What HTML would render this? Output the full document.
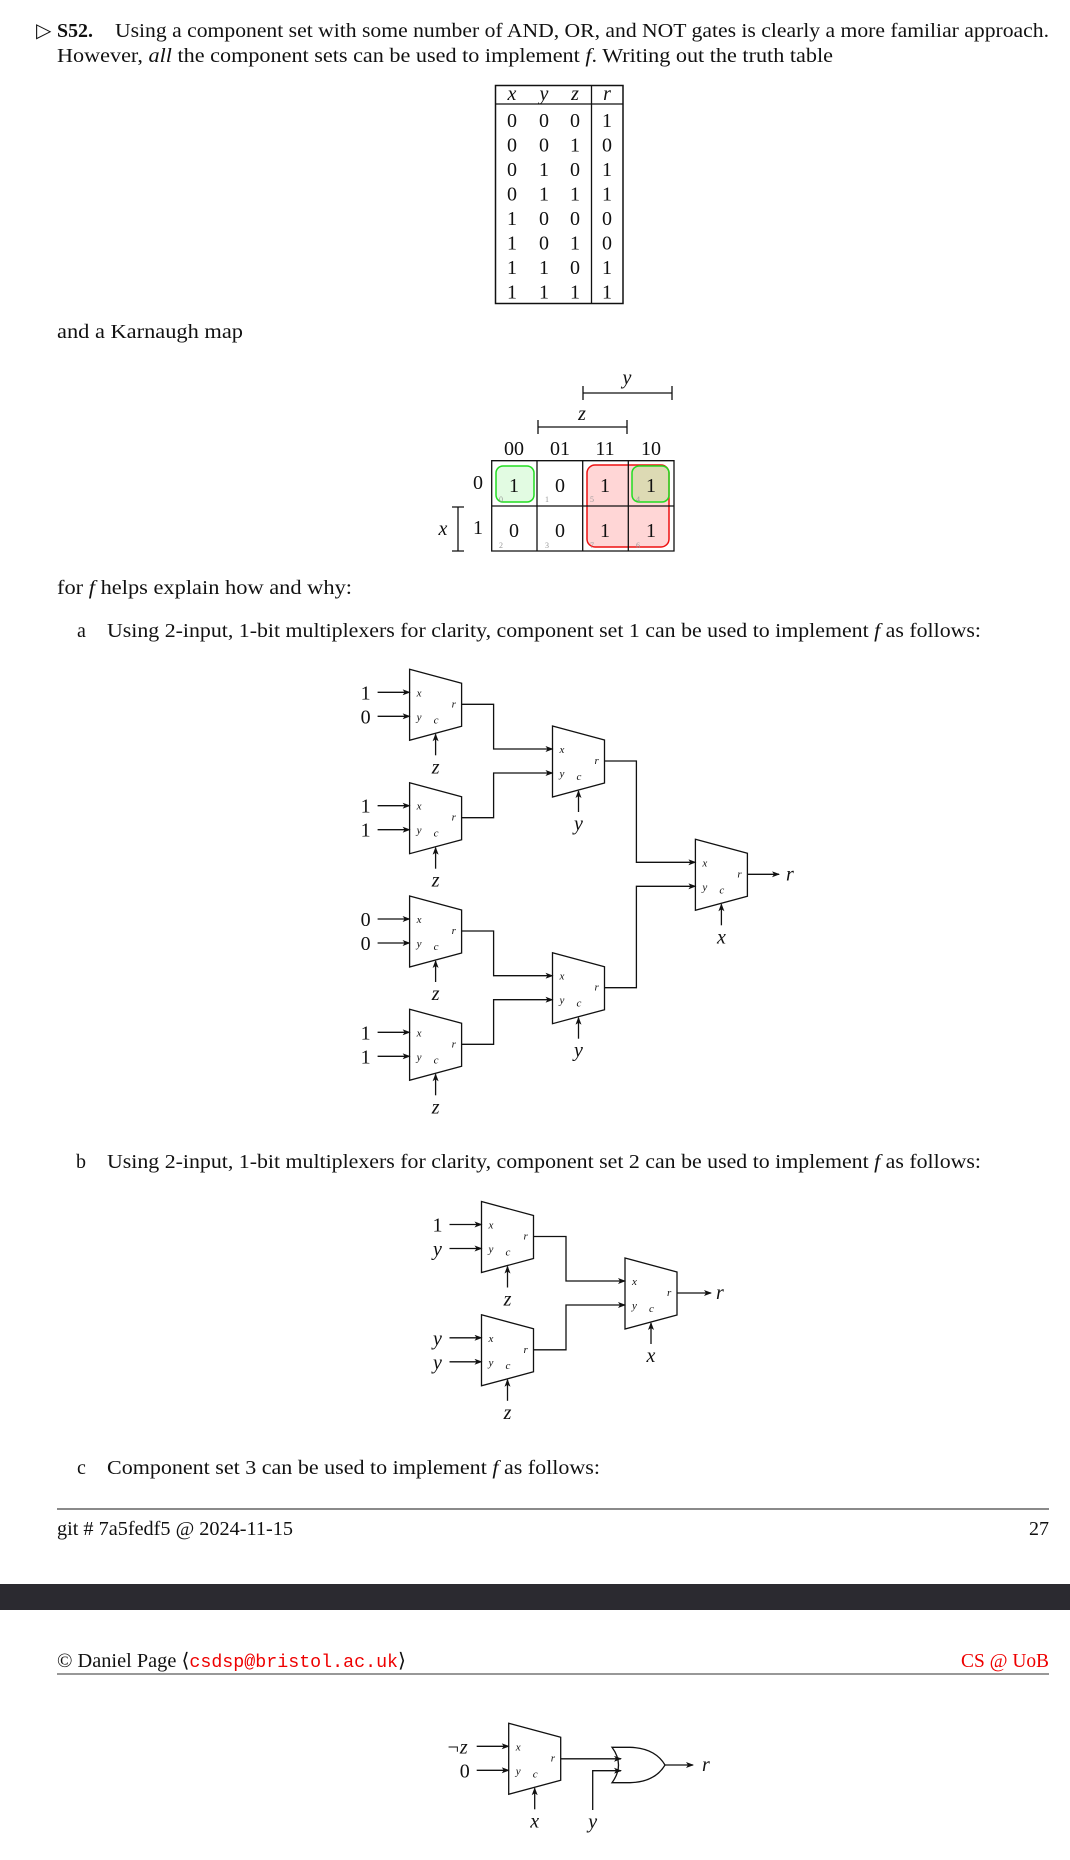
<!DOCTYPE html>
<html><head><meta charset="utf-8"><style>
html,body{margin:0;padding:0;background:#fff;}
svg{display:block;}
.t{font-family:"Liberation Serif",serif;font-size:20px;fill:#111;}
.i{font-style:italic;}
.sm{font-family:"Liberation Serif",serif;font-size:11px;font-style:italic;fill:#111;}
.w{stroke:#111;stroke-width:1.3;fill:none;}
</style></head><body>
<svg id="pg" width="1070" height="1860" viewBox="0 0 1070 1860" xmlns="http://www.w3.org/2000/svg">
<defs><marker id="ah" markerWidth="8" markerHeight="6" refX="7" refY="3" orient="auto" markerUnits="userSpaceOnUse"><path d="M0,0 L8,3 L0,6 L2,3 Z" fill="#111"/></marker></defs>

<g>
<text class="t" x="36" y="37" font-size="16">▷</text>
<text class="t" x="57" y="37" font-weight="bold" textLength="36" lengthAdjust="spacingAndGlyphs">S52.</text>
<text class="t" x="115" y="37" textLength="934" lengthAdjust="spacingAndGlyphs">Using a component set with some number of AND, OR, and NOT gates is clearly a more familiar approach.</text>
<text class="t" x="57" y="62" textLength="776" lengthAdjust="spacingAndGlyphs">However, <tspan class="i">all</tspan> the component sets can be used to implement <tspan class="i">f</tspan>. Writing out the truth table</text>
</g>

<g id="tt"></g>

<text class="t" x="57" y="338" textLength="186" lengthAdjust="spacingAndGlyphs">and a Karnaugh map</text>

<g>
<text class="t i" x="627" y="384" text-anchor="middle">y</text>
<path class="w" d="M583,393 H672 M583,386 V400 M672,386 V400" stroke-width="1.8"/>
<text class="t i" x="582" y="420" text-anchor="middle">z</text>
<path class="w" d="M538,427 H627 M538,420 V434 M627,420 V434" stroke-width="1.8"/>
<text class="t" x="514" y="455" text-anchor="middle" font-size="14">00</text>
<text class="t" x="560" y="455" text-anchor="middle" font-size="14">01</text>
<text class="t" x="605" y="455" text-anchor="middle" font-size="14">11</text>
<text class="t" x="651" y="455" text-anchor="middle" font-size="14">10</text>
<text class="t" x="478" y="489" text-anchor="middle" font-size="14">0</text>
<text class="t" x="478" y="534" text-anchor="middle" font-size="14">1</text>
<text class="t i" x="443" y="535" text-anchor="middle">x</text>
<path class="w" d="M458,507 V551 M452,507 H464 M452,551 H464" stroke-width="1.8"/>
<rect x="496" y="466" width="38" height="36" rx="7" fill="#e2fbe2" stroke="#22dd22" stroke-width="1.5"/>
<rect x="587" y="465" width="82" height="82" rx="8" fill="rgba(255,120,120,0.3)" stroke="#ee1111" stroke-width="1.5"/>
<rect x="632" y="466" width="37" height="36" rx="7" fill="rgba(120,230,80,0.25)" stroke="#22dd22" stroke-width="1.5"/>
<path class="w" d="M491.7,460.7 H674 V551 H491.7 Z M537,460.7 V551 M582.7,460.7 V551 M628.3,460.7 V551 M491.7,506 H674" stroke-width="1.6"/>
<text class="t" x="514" y="492" text-anchor="middle" font-size="21">1</text>
<text class="t" x="560" y="492" text-anchor="middle" font-size="21">0</text>
<text class="t" x="605" y="492" text-anchor="middle" font-size="21">1</text>
<text class="t" x="651" y="492" text-anchor="middle" font-size="21">1</text>
<text class="t" x="514" y="537" text-anchor="middle" font-size="21">0</text>
<text class="t" x="560" y="537" text-anchor="middle" font-size="21">0</text>
<text class="t" x="605" y="537" text-anchor="middle" font-size="21">1</text>
<text class="t" x="651" y="537" text-anchor="middle" font-size="21">1</text>
<g font-family="Liberation Serif" font-size="8" fill="#999">
<text x="499" y="502">0</text><text x="545" y="502">1</text><text x="590" y="502">5</text><text x="636" y="502">4</text>
<text x="499" y="548">2</text><text x="545" y="548">3</text><text x="590" y="548">7</text><text x="636" y="548">6</text>
</g>
</g>

<text class="t" x="57" y="594" textLength="295" lengthAdjust="spacingAndGlyphs">for <tspan class="i">f</tspan> helps explain how and why:</text>
<text class="t" x="77" y="637">a</text>
<text class="t" x="107" y="637" textLength="874" lengthAdjust="spacingAndGlyphs">Using 2-input, 1-bit multiplexers for clarity, component set 1 can be used to implement <tspan class="i">f</tspan> as follows:</text>
<text class="t" x="76" y="1168">b</text>
<text class="t" x="107" y="1168" textLength="874" lengthAdjust="spacingAndGlyphs">Using 2-input, 1-bit multiplexers for clarity, component set 2 can be used to implement <tspan class="i">f</tspan> as follows:</text>
<text class="t" x="77" y="1474">c</text>
<text class="t" x="107" y="1474" textLength="493" lengthAdjust="spacingAndGlyphs">Component set 3 can be used to implement <tspan class="i">f</tspan> as follows:</text>

<g id="circA"></g>
<g id="circB"></g>
<g id="circC"></g>

<g>
<line x1="57" y1="1509" x2="1049" y2="1509" stroke="#444" stroke-width="1.3"/>
<text class="t" x="57" y="1535" textLength="236" lengthAdjust="spacingAndGlyphs">git # 7a5fedf5 @ 2024-11-15</text>
<text class="t" x="1049" y="1535" text-anchor="end">27</text>
</g>
<rect x="0" y="1584" width="1070" height="26" fill="#2b2a30"/>
<g>
<text class="t" x="57" y="1667" textLength="349" lengthAdjust="spacingAndGlyphs">©  Daniel Page ⟨<tspan style="fill:#e00" font-family="Liberation Mono, monospace" font-size="18">csdsp@bristol.ac.uk</tspan>⟩</text>
<text class="t" x="1049" y="1667" text-anchor="end" style="fill:#e00" textLength="88" lengthAdjust="spacingAndGlyphs">CS @ UoB</text>
<line x1="57" y1="1674" x2="1049" y2="1674" stroke="#777" stroke-width="1.5"/>
</g>
</svg>
<script>
(function(){
  var tt=document.getElementById('tt');
  var rows=[[0,0,0,1],[0,0,1,0],[0,1,0,1],[0,1,1,1],[1,0,0,0],[1,0,1,0],[1,1,0,1],[1,1,1,1]];
  var cx=[512,544,575,607];
  var s='<rect x="495.5" y="85.5" width="127.5" height="218" fill="none" stroke="#111" stroke-width="1.5"/>'+
        '<line x1="591.5" y1="85.5" x2="591.5" y2="303.5" stroke="#111" stroke-width="1.3"/>'+
        '<line x1="495.5" y1="104" x2="623" y2="104" stroke="#111" stroke-width="1.3"/>';
  ['x','y','z','r'].forEach(function(h,k){s+='<text class="t i" x="'+cx[k]+'" y="100" text-anchor="middle" font-size="19">'+h+'</text>';});
  rows.forEach(function(r,j){r.forEach(function(v,k){s+='<text class="t" x="'+cx[k]+'" y="'+(127+j*24.5)+'" text-anchor="middle" font-size="20">'+v+'</text>';});});
  tt.innerHTML=s;

  function mux(L,T,inA,inB,sel,name,ax){
    var g='<g>';
    g+='<polygon class="w" points="'+L+','+T+' '+(L+52)+','+(T+14)+' '+(L+52)+','+(T+57)+' '+L+','+(T+71)+'"/>';
    g+='<text class="sm" x="'+(L+7)+'" y="'+(T+27)+'">x</text>';
    g+='<text class="sm" x="'+(L+7)+'" y="'+(T+51)+'">y</text>';
    g+='<text class="sm" x="'+(L+24)+'" y="'+(T+54)+'">c</text>';
    g+='<text class="sm" x="'+(L+42)+'" y="'+(T+38)+'">r</text>';
    g+='<line class="w" x1="'+(L+26)+'" y1="'+(T+86)+'" x2="'+(L+26)+'" y2="'+(T+65)+'" marker-end="url(#ah)"/>';
    g+='<text class="t i" x="'+(L+26)+'" y="'+(T+104)+'" text-anchor="middle" font-size="19">'+sel+'</text>';
    if(inA!==null){
      var xa=(ax===undefined)?(L-44):ax;
      g+='<line class="w" x1="'+(L-32)+'" y1="'+(T+23)+'" x2="'+L+'" y2="'+(T+23)+'" marker-end="url(#ah)"/>';
      g+='<line class="w" x1="'+(L-32)+'" y1="'+(T+47)+'" x2="'+L+'" y2="'+(T+47)+'" marker-end="url(#ah)"/>';
      g+='<text class="t'+(isNaN(inA)?' i':'')+'" x="'+xa+'" y="'+(T+30)+'" text-anchor="middle">'+inA+'</text>';
      g+='<text class="t'+(isNaN(inB)?' i':'')+'" x="'+(L-44)+'" y="'+(T+54)+'" text-anchor="middle">'+inB+'</text>';
    }
    return g+'</g>';
  }
  function wire(x1,y1,bx,y2,x2){
    return '<path class="w" d="M'+x1+','+y1+' H'+bx+' V'+y2+' H'+x2+'" marker-end="url(#ah)"/>';
  }
  var a='',L1=409.6,L2=552.5,L3=695.4,t1=[669.3,782.7,896,1009.3],t2=[726,952.7],t3=839.3;
  var ins=[['1','0'],['1','1'],['0','0'],['1','1']];
  t1.forEach(function(t,k){a+=mux(L1,t,ins[k][0],ins[k][1],'z','mux-a-l1-'+k);});
  t2.forEach(function(t,k){a+=mux(L2,t,null,null,'y','mux-a-l2-'+k);});
  a+=mux(L3,t3,null,null,'x','mux-a-l3');
  a+=wire(L1+52,t1[0]+35,493.6,t2[0]+23,L2);
  a+=wire(L1+52,t1[1]+35,493.6,t2[0]+47,L2);
  a+=wire(L1+52,t1[2]+35,493.6,t2[1]+23,L2);
  a+=wire(L1+52,t1[3]+35,493.6,t2[1]+47,L2);
  a+=wire(L2+52,t2[0]+35,636.4,t3+23,L3);
  a+=wire(L2+52,t2[1]+35,636.4,t3+47,L3);
  a+='<line class="w" x1="'+(L3+52)+'" y1="'+(t3+35)+'" x2="779" y2="'+(t3+35)+'" marker-end="url(#ah)"/>';
  a+='<text class="t i" x="786" y="'+(t3+41)+'">r</text>';
  document.getElementById('circA').innerHTML=a;
  var b='',B1=481.5,B2=625,u1=[1201.5,1314.8],u2=1258;
  b+=mux(B1,u1[0],'1','y','z','mux-b-l1-0');
  b+=mux(B1,u1[1],'y','y','z','mux-b-l1-1');
  b+=mux(B2,u2,null,null,'x','mux-b-l2');
  b+=wire(B1+52,u1[0]+35,566,u2+23,B2);
  b+=wire(B1+52,u1[1]+35,566,u2+47,B2);
  b+='<line class="w" x1="'+(B2+52)+'" y1="'+(u2+35)+'" x2="711" y2="'+(u2+35)+'" marker-end="url(#ah)"/>';
  b+='<text class="t i" x="716" y="'+(u2+41)+'">r</text>';
  document.getElementById('circB').innerHTML=b;
  var c='',C=508.7,T=1723.3;
  c+=mux(C,T,'¬z','0','x','mux-c',457);
  c+='<line class="w" x1="'+(C+52)+'" y1="'+(T+35.5)+'" x2="621" y2="'+(T+35.5)+'" marker-end="url(#ah)"/>';
  c+='<path class="w" d="M592.7,1810 V1770.7 H621" marker-end="url(#ah)"/>';
  c+='<path class="w" d="M612,1747.3 Q625,1765 612,1782.7 L630,1782.7 Q655,1782 665,1765 Q655,1748 630,1747.3 Z"/>';
  c+='<line class="w" x1="665" y1="1765" x2="693" y2="1765" marker-end="url(#ah)"/>';
  c+='<text class="t i" x="702" y="1771">r</text>';
  c+='<text class="t i" x="592.7" y="1828" text-anchor="middle">y</text>';
  document.getElementById('circC').innerHTML=c;
})();
</script>
</body></html>
